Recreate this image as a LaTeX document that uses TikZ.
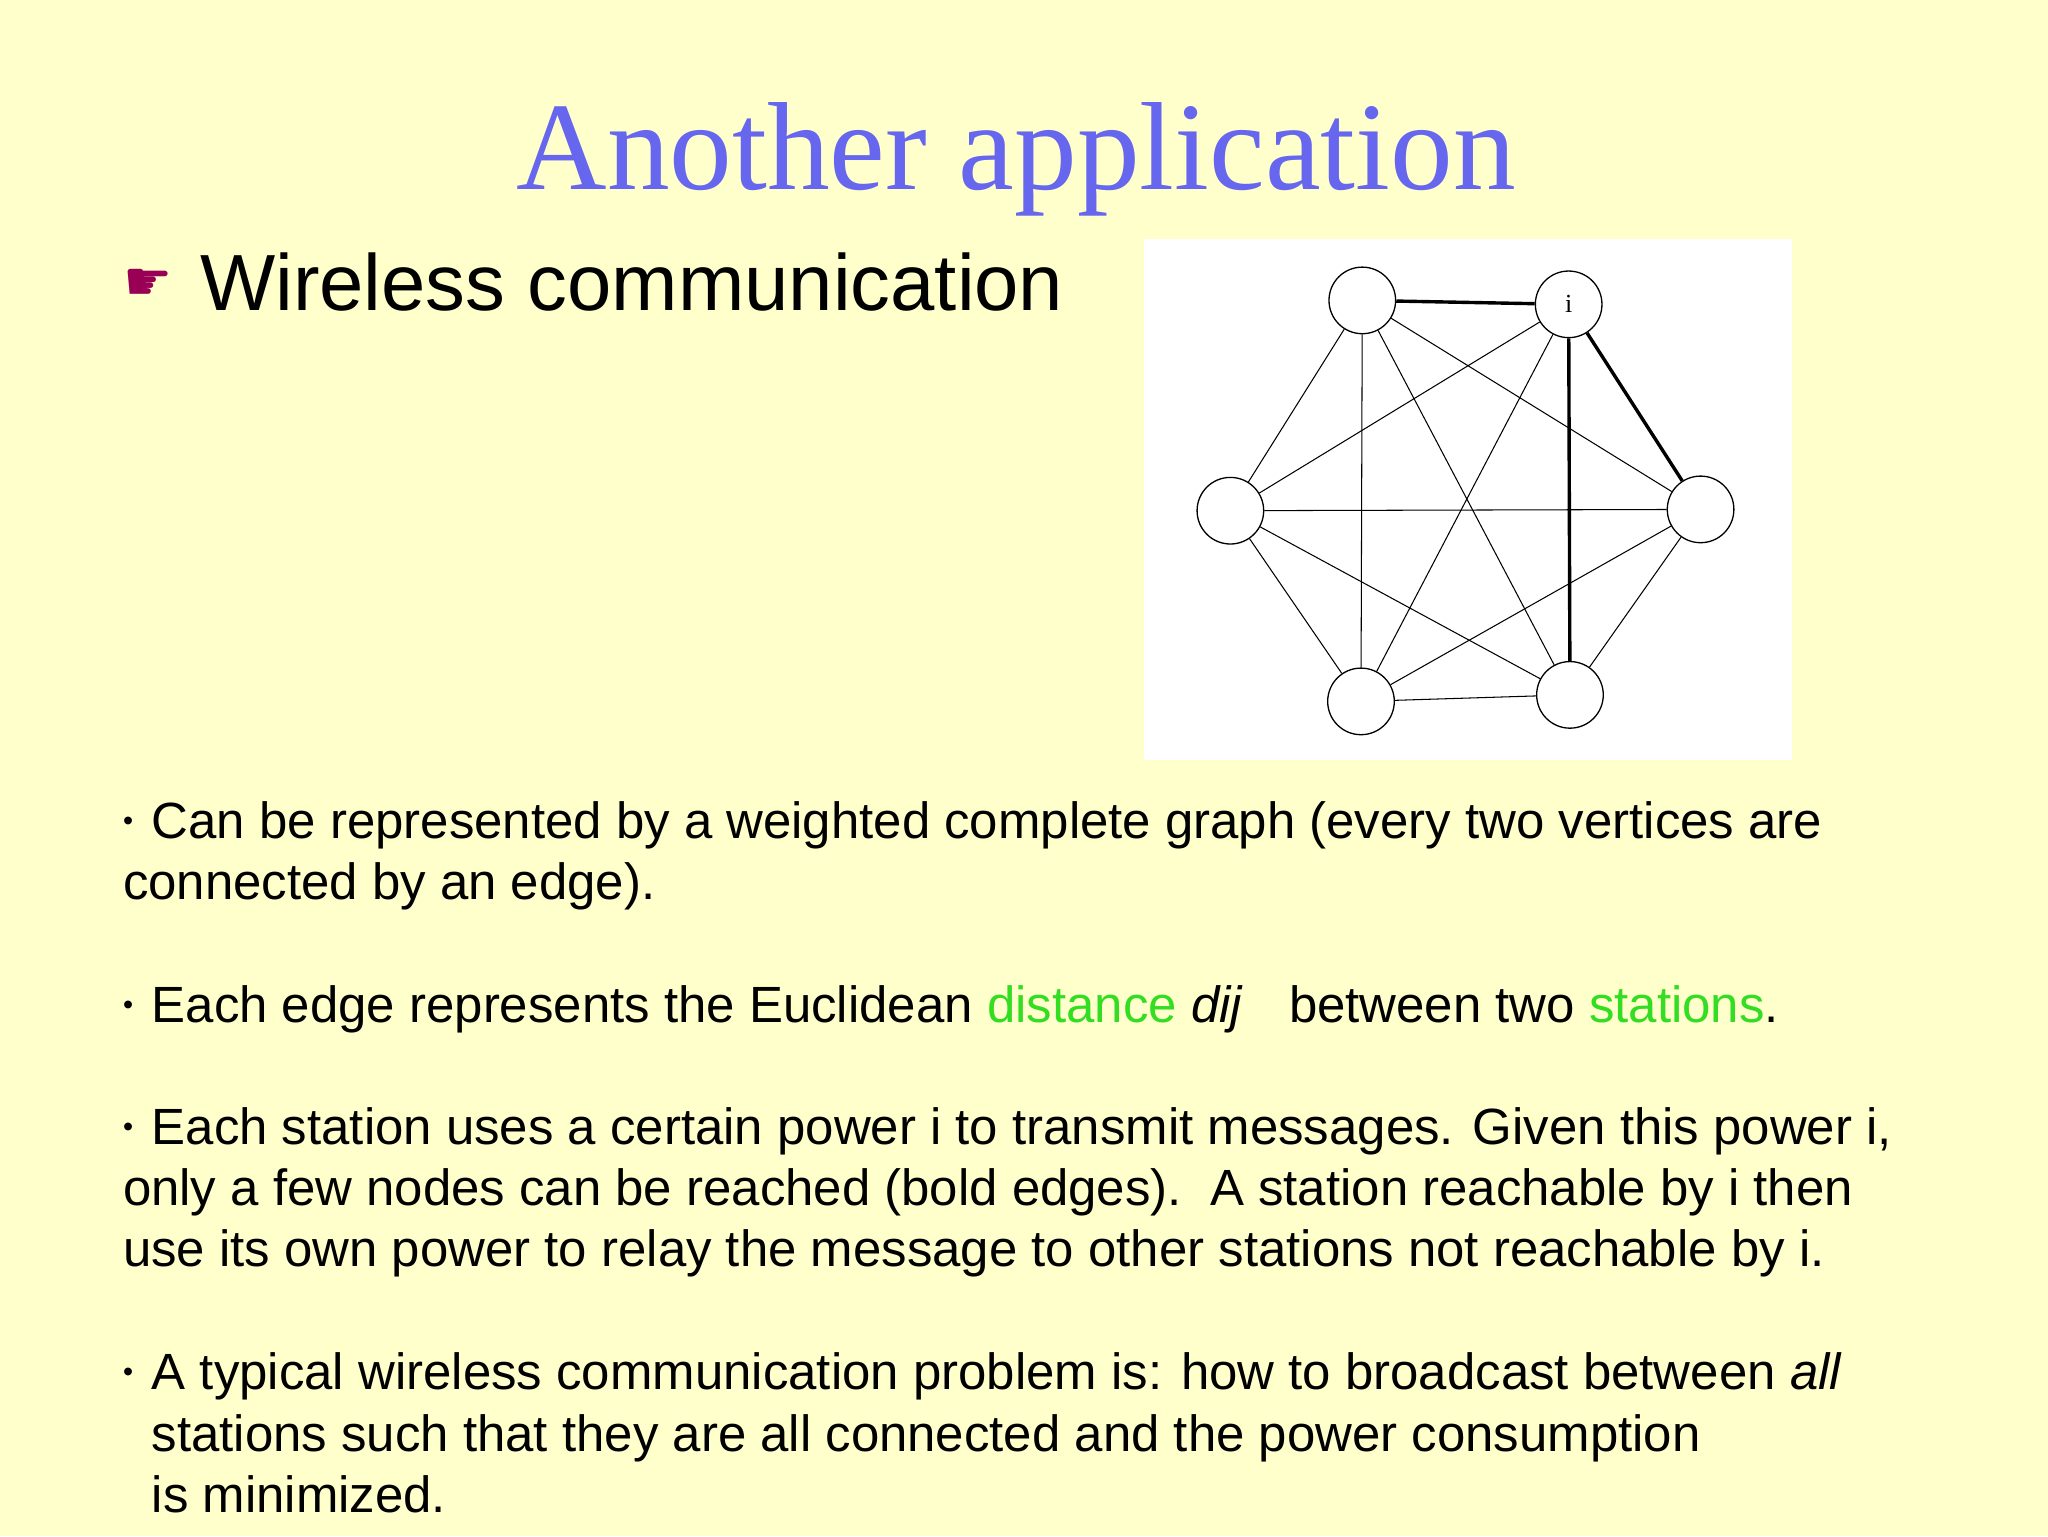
\documentclass[tikz,border=0pt]{standalone}
\usepackage{fontspec}
\setmainfont{Liberation Sans}
\newfontfamily\titlefont{Liberation Serif}
\newfontfamily\symfont{DejaVu Sans}
\definecolor{bgc}{HTML}{FFFFCC}
\definecolor{titc}{HTML}{6666EE}
\definecolor{grn}{HTML}{33DD22}
\definecolor{hand}{HTML}{990055}
\begin{document}
\begin{tikzpicture}[x=1pt,y=-1pt,
  st/.style={circle,draw,fill=white,minimum size=51pt,inner sep=0pt,line width=1pt},
  ed/.style={line width=0.8pt},
  bed/.style={line width=2.6pt},
  body/.style={anchor=base west,inner sep=0pt,font=\fontsize{39}{46}\selectfont},
  dot/.style={anchor=base west,inner sep=0pt,font=\fontsize{22}{26}\selectfont}]
\fill[bgc] (0,0) rectangle (1568,1176);
\useasboundingbox (0,0) rectangle (1568,1176);
\node[anchor=base,inner sep=0pt,text=titc,font=\titlefont\fontsize{96}{106}\selectfont] (title) at (778,145) {Another application};
\node[anchor=base west,inner sep=0pt,text=hand,font=\symfont\fontsize{42}{46}\selectfont] (hand) at (94,230) {☛};
\node[anchor=base west,inner sep=0pt,font=\fontsize{61}{70}\selectfont] (wc) at (153,238) {Wireless communication};
\fill[white] (876,183) rectangle (1372,582);
\node[st] (a) at (1043,230) {};
\node[st,font=\titlefont\fontsize{20}{20}\selectfont] (i) at (1201,233) {i};
\node[st] (l) at (942,391) {};
\node[st] (r) at (1302,390) {};
\node[st] (bl) at (1042,537) {};
\node[st] (br) at (1202,532) {};
\foreach \u/\v in {a/l,a/r,a/bl,a/br,i/l,i/bl,l/r,l/bl,l/br,r/bl,r/br,bl/br}{\draw[ed] (\u) -- (\v);}
\draw[bed] (a) -- (i);
\draw[bed] (i) -- (r);
\draw[bed] (i) -- (br);
\node[dot] (d1) at (94,636) {•};
\node[body] (t1) at (116,642) {Can be represented by a weighted complete graph (every two vertices are};
\node[body] (t1b) at (94,689) {connected by an edge).};
\node[dot] (d2) at (94,777) {•};
\node[body] (t2) at (116,783) {Each edge represents the Euclidean \textcolor{grn}{distance} \textit{dij}\hspace{0.9em}between two \textcolor{grn}{stations}.};
\node[dot] (d3) at (94,870) {•};
\node[body] (t3) at (116,876) {Each station uses a certain power i to transmit messages. Given this power i,};
\node[body] (t3b) at (94,923) {only a few nodes can be reached (bold edges).\ \ A station reachable by i then};
\node[body] (t3c) at (94,970) {use its own power to relay the message to other stations not reachable by i.};
\node[dot] (d4) at (94,1058) {•};
\node[body] (t4) at (116,1064) {A typical wireless communication problem is: how to broadcast between \textit{all}};
\node[body] (t4b) at (116,1111) {stations such that they are all connected and the power consumption};
\node[body] (t4c) at (116,1158) {is minimized.};
\end{tikzpicture}
\end{document}
